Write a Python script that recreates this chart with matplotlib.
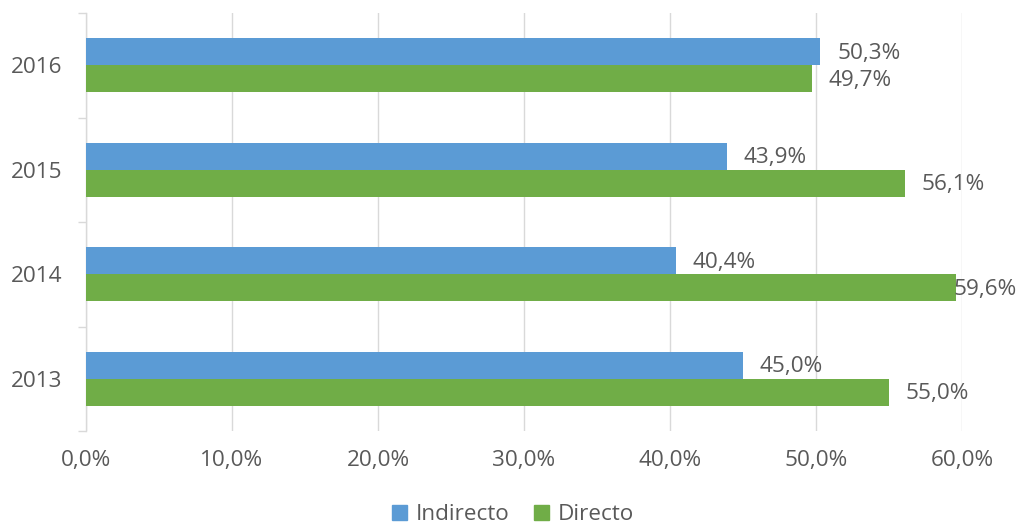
import matplotlib
matplotlib.use('Agg')
import matplotlib.pyplot as plt
import numpy as np
from matplotlib.patches import Patch

plt.rcParams['font.family'] = ['Open Sans', 'DejaVu Sans']

# Data
years = ['2013', '2014', '2015', '2016']
indirecto = [45.0, 40.4, 43.9, 50.3]
directo = [55.0, 59.6, 56.1, 49.7]
xticks = [0, 10, 20, 30, 40, 50, 60]

blue = '#5B9BD5'
green = '#70AD47'
txt = '#595959'
grid = '#D9D9D9'
fs = 16.2

def fmt(v):
    return ('%.1f%%' % v).replace('.', ',')

fig = plt.figure(figsize=(10.19, 5.25), dpi=100)
ax = fig.add_axes([86 / 1019, 1 - 431 / 525, 876 / 1019, 418 / 525])

y = np.arange(len(years))
h = 0.258
ax.barh(y + h / 2, indirecto, height=h, color=blue, label='Indirecto', zorder=3)
ax.barh(y - h / 2, directo, height=h, color=green, label='Directo', zorder=3)

ax.set_xlim(0, 60)
ax.set_ylim(-0.5, len(years) - 0.5)

ax.set_xticks(xticks)
ax.set_xticklabels([fmt(v) for v in xticks])
ax.set_yticks(y)
ax.set_yticklabels(years)
ax.set_yticks(np.arange(-0.5, len(years)), minor=True)

ax.grid(axis='x', color=grid, linewidth=1.0, zorder=0)
for s in ['top', 'right', 'bottom']:
    ax.spines[s].set_visible(False)
ax.spines['left'].set_color(grid)
ax.spines['left'].set_linewidth(1.0)

ax.tick_params(axis='x', length=0, pad=14, labelsize=fs, labelcolor=txt)
ax.tick_params(axis='y', which='major', length=0, pad=17, labelsize=fs, labelcolor=txt)
ax.tick_params(axis='y', which='minor', length=6, width=1.0, color=grid)

# value labels
labels = []
for yi, v in zip(y, indirecto):
    labels.append(ax.annotate(fmt(v), (v, yi + h / 2), xytext=(12, -1), textcoords='offset points',
                              va='center', ha='left', fontsize=fs, color=txt))
for yi, v in zip(y, directo):
    labels.append(ax.annotate(fmt(v), (v, yi - h / 2), xytext=(12, -1), textcoords='offset points',
                              va='center', ha='left', fontsize=fs, color=txt))

# keep labels inside the figure like the original
fig.canvas.draw()
r = fig.canvas.get_renderer()
W = fig.bbox.width
for t in labels:
    bb = t.get_window_extent(r)
    if bb.x1 > W - 2:
        dx = (bb.x1 - (W - 2)) * 72 / fig.dpi
        ox, oy = t.xyann
        t.xyann = (ox - dx, oy)

handles = [Patch(color=blue, label='Indirecto'), Patch(color=green, label='Directo')]
fig.legend(handles=handles, loc='center', bbox_to_anchor=(513 / 1019, 1 - 515 / 525), ncol=2,
           frameon=False, fontsize=fs, labelcolor=txt, handlelength=0.65, handleheight=0.65,
           handletextpad=0.4, columnspacing=1.1)

fig.savefig('out.png', dpi=100)
